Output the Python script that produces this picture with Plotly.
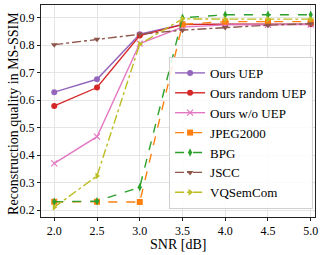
import plotly.graph_objects as go

snr = [2.0, 2.5, 3.0, 3.5, 4.0, 4.5, 5.0]
ours_uep = [0.629, 0.676, 0.840, 0.876, 0.876, 0.876, 0.877]
ours_random_uep = [0.579, 0.646, 0.835, 0.875, 0.877, 0.877, 0.876]
ours_wo_uep = [0.370, 0.467, 0.806, 0.866, 0.874, 0.874, 0.875]
jpeg2000 = [0.230, 0.230, 0.229, 0.876, 0.886, 0.886, 0.886]
bpg = [0.230, 0.232, 0.283, 0.900, 0.911, 0.911, 0.911]
jscc = [0.802, 0.822, 0.840, 0.855, 0.865, 0.873, 0.878]
vqsemcom = [0.210, 0.324, 0.804, 0.896, 0.895, 0.895, 0.895]
x_ticks = [2.0, 2.5, 3.0, 3.5, 4.0, 4.5, 5.0]
y_ticks = [0.2, 0.3, 0.4, 0.5, 0.6, 0.7, 0.8, 0.9]

series = [
    ("Ours UEP", ours_uep, "#9467bd", "circle", "solid"),
    ("Ours random UEP", ours_random_uep, "#d62728", "circle", "solid"),
    ("Ours w/o UEP", ours_wo_uep, "#e377c2", "x-thin", "solid"),
    ("JPEG2000", jpeg2000, "#ff7f0e", "square", "dash"),
    ("BPG", bpg, "#2ca02c", "diamond-tall", "dash"),
    ("JSCC", jscc, "#8c564b", "triangle-down", "dashdot"),
    ("VQSemCom", vqsemcom, "#bcbd22", "triangle-right", "dashdot"),
]

fig = go.Figure()
for name, vals, color, sym, dash in series:
    fig.add_trace(go.Scatter(
        x=snr, y=vals, name=name, mode="lines+markers",
        line=dict(color=color, width=1.4, dash=dash),
        marker=dict(symbol=sym, size=6, color=color,
                    line=dict(color=color, width=1.2 if sym == "x-thin" else 0)),
    ))

font_family = "Liberation Serif, Times New Roman, serif"
fig.update_layout(
    width=329, height=255,
    margin=dict(l=41, r=14, t=5, b=38),
    paper_bgcolor="white", plot_bgcolor="white",
    font=dict(family=font_family, size=12, color="black"),
    showlegend=True,
    legend=dict(
        x=0.993, y=0.038, xanchor="right", yanchor="bottom",
        bgcolor="rgba(255,255,255,0.85)", bordercolor="#d0d0d0", borderwidth=1,
        font=dict(family=font_family, size=13, color="black"),
        tracegroupgap=0,
    ),
    xaxis=dict(
        range=[1.845, 5.05], tickvals=x_ticks, ticktext=[f"{v:.1f}" for v in x_ticks],
        showgrid=True, gridcolor="#e5e5e5", gridwidth=1,
        showline=True, linecolor="#222222", linewidth=1, mirror=True,
        ticks="outside", ticklen=3, tickcolor="#222222",
        zeroline=False, automargin=False,
    ),
    yaxis=dict(
        range=[0.1745, 0.9465], tickvals=y_ticks, ticktext=[f"{v:.1f}" for v in y_ticks],
        showgrid=True, gridcolor="#e5e5e5", gridwidth=1,
        showline=True, linecolor="#222222", linewidth=1, mirror=True,
        ticks="outside", ticklen=3, tickcolor="#222222",
        zeroline=False, automargin=False,
    ),
    annotations=[
        dict(text="SNR [dB]", xref="paper", yref="paper", x=0.5, y=-0.128,
             xanchor="center", yanchor="middle", showarrow=False,
             font=dict(family=font_family, size=14, color="black")),
        dict(text="Reconstruction quality in MS-SSIM", xref="paper", yref="paper",
             x=-0.103, y=0.49, xanchor="center", yanchor="middle", textangle=-90,
             showarrow=False, font=dict(family=font_family, size=14, color="black")),
    ],
)

fig.write_html("out.html", config={"displayModeBar": False},
               post_script="document.body.style.margin='0';document.body.style.overflow='hidden';")
